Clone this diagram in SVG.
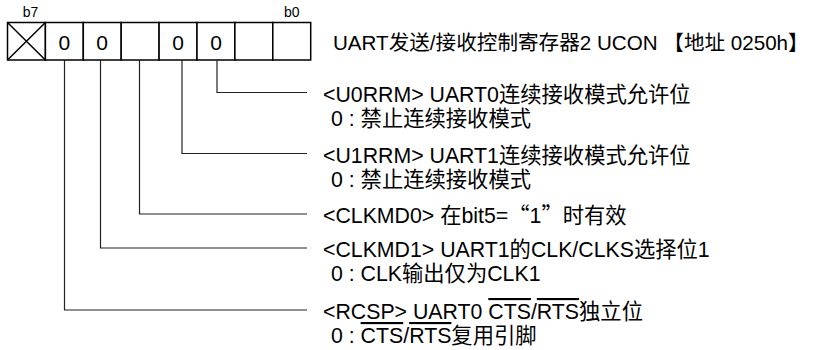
<svg xmlns="http://www.w3.org/2000/svg" width="819" height="350" viewBox="0 0 819 350">
<style>
text{font-family:"Liberation Sans","Noto Sans CJK SC",sans-serif;fill:#000}
.lbl{font-size:21.3px}
.ttl{font-size:20.6px}
.bit{font-size:14px}
.val{font-size:21px;text-anchor:middle}
.cell{fill:#fff;stroke:#000;stroke-width:1.5}
.conn{fill:none;stroke:#222;stroke-width:1.2}
.cjk{font-family:"Noto Sans CJK SC",sans-serif}
.ov{text-decoration:overline}
</style>
<rect width="819" height="350" fill="#fff"/>
<g id="register">
<text class="bit" x="22.7" y="17.3">b7</text>
<text class="bit" x="284" y="17.3">b0</text>
<rect class="cell" x="7.5" y="22.5" width="37.9" height="37.5"/>
<rect class="cell" x="45.4" y="22.5" width="37.9" height="37.5"/>
<rect class="cell" x="83.3" y="22.5" width="37.9" height="37.5"/>
<rect class="cell" x="121.2" y="22.5" width="37.9" height="37.5"/>
<rect class="cell" x="159.1" y="22.5" width="37.9" height="37.5"/>
<rect class="cell" x="197" y="22.5" width="37.9" height="37.5"/>
<rect class="cell" x="234.9" y="22.5" width="37.9" height="37.5"/>
<rect class="cell" x="272.8" y="22.5" width="37.9" height="37.5"/>
<path d="M7.5 22.5L45.4 60M45.4 22.5L7.5 60" stroke="#000" stroke-width="1.5"/>
<text class="val" x="64.3" y="50">0</text>
<text class="val" x="102.2" y="50">0</text>
<text class="val" x="178" y="50">0</text>
<text class="val" x="216" y="50">0</text>
</g>
<g id="title">
<text class="ttl" x="333" y="50">UART发送/接收控制寄存器2 UCON 【地址 0250h】</text>
</g>
<g id="connectors">
<path class="conn" d="M217 60V92.5H307"/>
<path class="conn" d="M182 60V153.5H307"/>
<path class="conn" d="M139.5 60V214H307"/>
<path class="conn" d="M100.5 60V248H307"/>
<path class="conn" d="M64.5 60V310H307"/>
</g>
<g id="u0rrm">
<text class="lbl" x="323" y="101.5">&lt;U0RRM&gt; UART0连续接收模式允许位</text>
<text class="lbl" x="331" y="125.5">0 : 禁止连续接收模式</text>
</g>
<g id="u1rrm">
<text class="lbl" x="323" y="162.5">&lt;U1RRM&gt; UART1连续接收模式允许位</text>
<text class="lbl" x="331" y="186.5">0 : 禁止连续接收模式</text>
</g>
<g id="clkmd0">
<text class="lbl" x="323" y="223">&lt;CLKMD0&gt; 在bit5=<tspan class="cjk">“</tspan>1<tspan class="cjk">”</tspan>时有效</text>
</g>
<g id="clkmd1">
<text class="lbl" x="323" y="257">&lt;CLKMD1&gt; UART1的CLK/CLKS选择位1</text>
<text class="lbl" x="331" y="281">0 : CLK输出仅为CLK1</text>
</g>
<g id="rcsp">
<text class="lbl" x="323" y="319">&lt;RCSP&gt; UART0 <tspan class="ov">CTS</tspan>/<tspan class="ov">RTS</tspan>独立位</text>
<text class="lbl" x="331" y="343">0 : <tspan class="ov">CTS</tspan>/<tspan class="ov">RTS</tspan>复用引脚</text>
</g>
</svg>
